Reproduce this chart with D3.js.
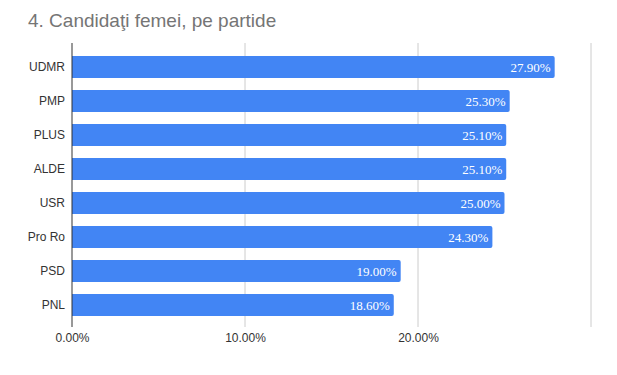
<!DOCTYPE html>
<html>
<head>
<meta charset="utf-8">
<script src="https://cdn.jsdelivr.net/npm/d3@7"></script>
<style>
  body { margin: 0; background: #fff; }
</style>
</head>
<body>
<script>
const parties = ['UDMR', 'PMP', 'PLUS', 'ALDE', 'USR', 'Pro Ro', 'PSD', 'PNL']
const shares = [27.9, 25.3, 25.1, 25.1, 25.0, 24.3, 19.0, 18.6]
const ticks = [0, 10, 20, 30]

const width = 617
const height = 375

const svg = d3.select('body')
  .append('svg')
  .attr('width', width)
  .attr('height', height)

svg.append('text')
  .attr('x', 28)
  .attr('y', 27)
  .attr('font-family', 'Liberation Sans, Arial, sans-serif')
  .attr('font-size', 19)
  .attr('fill', '#757575')
  .text('4. Candidaţi femei, pe partide')

const x = d3.scaleLinear().domain([0, 30]).range([72, 591])
const y = d3.scaleBand().domain(parties).range([50, 322]).paddingInner(0.36).paddingOuter(0.18)

const plotTop = 43
const plotBottom = 327

// gridlines
svg.append('g')
  .selectAll('line')
  .data(ticks.slice(1))
  .enter()
  .append('line')
  .attr('x1', d => x(d))
  .attr('x2', d => x(d))
  .attr('y1', plotTop)
  .attr('y2', plotBottom)
  .attr('stroke', '#cccccc')

// bars with rounded right end
const rows = parties.map((p, i) => ({ party: p, value: shares[i] }))

svg.append('g')
  .selectAll('path')
  .data(rows)
  .enter()
  .append('path')
  .attr('fill', '#4285f4')
  .attr('d', d => {
    const x0 = x(0), x1 = x(d.value), y0 = y(d.party), h = y.bandwidth(), r = 2
    return `M${x0},${y0}H${x1 - r}Q${x1},${y0} ${x1},${y0 + r}V${y0 + h - r}Q${x1},${y0 + h} ${x1 - r},${y0 + h}H${x0}Z`
  })

// value labels
svg.append('g')
  .selectAll('text')
  .data(rows)
  .enter()
  .append('text')
  .attr('x', d => x(d.value) - 4)
  .attr('y', d => y(d.party) + y.bandwidth() / 2)
  .attr('dy', '0.35em')
  .attr('text-anchor', 'end')
  .attr('font-family', 'Liberation Serif, Times New Roman, serif')
  .attr('font-size', 13)
  .attr('fill', '#ffffff')
  .text(d => d.value.toFixed(2) + '%')

// baseline
svg.append('line')
  .attr('x1', x(0))
  .attr('x2', x(0))
  .attr('y1', plotTop)
  .attr('y2', plotBottom)
  .attr('stroke', '#333333')

// category axis
const yAxis = svg.append('g')
  .attr('transform', `translate(${x(0)},0)`)
  .call(d3.axisLeft(y).tickSize(0).tickPadding(7))
yAxis.select('.domain').remove()
yAxis.selectAll('text')
  .attr('font-family', 'Liberation Sans, Arial, sans-serif')
  .attr('font-size', 12)
  .attr('fill', '#333333')

// value axis
const xAxis = svg.append('g')
  .attr('transform', `translate(0,${plotBottom})`)
  .call(d3.axisBottom(x).tickValues(ticks.slice(0, 3)).tickSize(0).tickPadding(6).tickFormat(d => d.toFixed(2) + '%'))
xAxis.select('.domain').remove()
xAxis.selectAll('text')
  .attr('font-family', 'Liberation Sans, Arial, sans-serif')
  .attr('font-size', 12)
  .attr('fill', '#333333')
</script>
</body>
</html>
